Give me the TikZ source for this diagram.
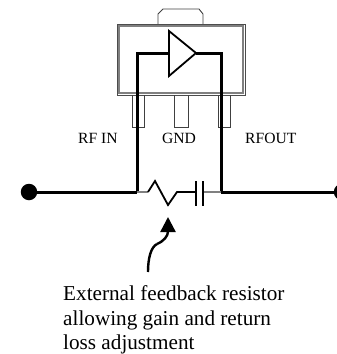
\documentclass[tikz,border=0pt]{standalone}
\usepackage{fontspec}
\setmainfont{Liberation Serif}
\usepackage{tikz}
\usetikzlibrary{arrows.meta}
\tikzset{
    wire/.style={black, line width=3pt},
    joint/.style={gray, line width=1.4pt},
    outline/.style={black!75, line width=0.9pt},
    label/.style={black, anchor=base west, font=\fontsize{15.6}{18}\selectfont, inner sep=0pt},
    note/.style={black, anchor=base west, font=\fontsize{21.2}{24}\selectfont, inner sep=0pt},
    terminal/.style={circle, fill=black, inner sep=0pt, minimum size=16.5pt}
}
\begin{document}
\begin{tikzpicture}[x=1pt,y=-1pt]
    \useasboundingbox (0,0) rectangle (337,354);
    \draw[outline] (158,24) -- (158,14) -- (163,9) -- (199,9) -- (203,14) -- (203,24);
    \draw[gray, line width=1.2pt] (119,26) rectangle (243,93);
    \draw[black!70, line width=0.8pt] (117,24) rectangle (245,95);
    \draw[outline] (132,95) -- (132,127) -- (144,127) -- (144,95);
    \draw[outline] (174,95) -- (174,127) -- (188,127) -- (188,95);
    \draw[outline] (218,95) -- (218,127) -- (230,127) -- (230,95);
    \coordinate (ampin) at (169,53);
    \coordinate (ampout) at (196,53);
    \coordinate (fbleft) at (137,192);
    \coordinate (fbright) at (221,192);
    \coordinate (reswest) at (148,192);
    \coordinate (reseast) at (177,192);
    \coordinate (capwest) at (196,192);
    \coordinate (capeast) at (203,192);
    \node[terminal] (rfin) at (29,192) {};
    \node[terminal] (rfout) at (342,192) {};
    \draw[black, line width=1.8pt, line join=miter] (169,31) -- (ampout) -- (169,76) -- cycle;
    \draw[wire] (ampin) -- (137,53) -- (fbleft);
    \draw[wire] (ampout) -- (221,53) -- (fbright);
    \draw[wire] (rfin) -- (fbleft);
    \draw[wire] (fbright) -- (rfout);
    \draw[joint] (fbleft) -- (reswest);
    \draw[joint] (capeast) -- (fbright);
    \draw[black, line width=1.8pt] (reswest) -- (155,181) -- (168,205) -- (reseast) -- (capwest);
    \draw[black, line width=2.2pt] (196,181) -- (196,206);
    \draw[black, line width=2.2pt] (203,181) -- (203,206);
    \coordinate (arrowtail) at (148,272);
    \coordinate (arrowbend) at (157,244);
    \coordinate (arrowtip) at (168,217);
    \draw[black, line width=2.4pt] (arrowtail) .. controls (148,258) and (151,247) .. (arrowbend);
    \draw[black, line width=2.4pt, -{Triangle[length=15pt,width=15pt]}] (arrowbend) .. controls (164,241) and (168,236) .. (arrowtip);
    \node[label] (rfinlabel) at (78,143) {RF IN};
    \node[label] (gndlabel) at (162,143) {GND};
    \node[label] (rfoutlabel) at (245,143) {RFOUT};
    \node[note] (noteone) at (63,300) {External feedback resistor};
    \node[note] (notetwo) at (63,325) {allowing gain and return};
    \node[note] (notethree) at (63,349) {loss adjustment};
\end{tikzpicture}
\end{document}
